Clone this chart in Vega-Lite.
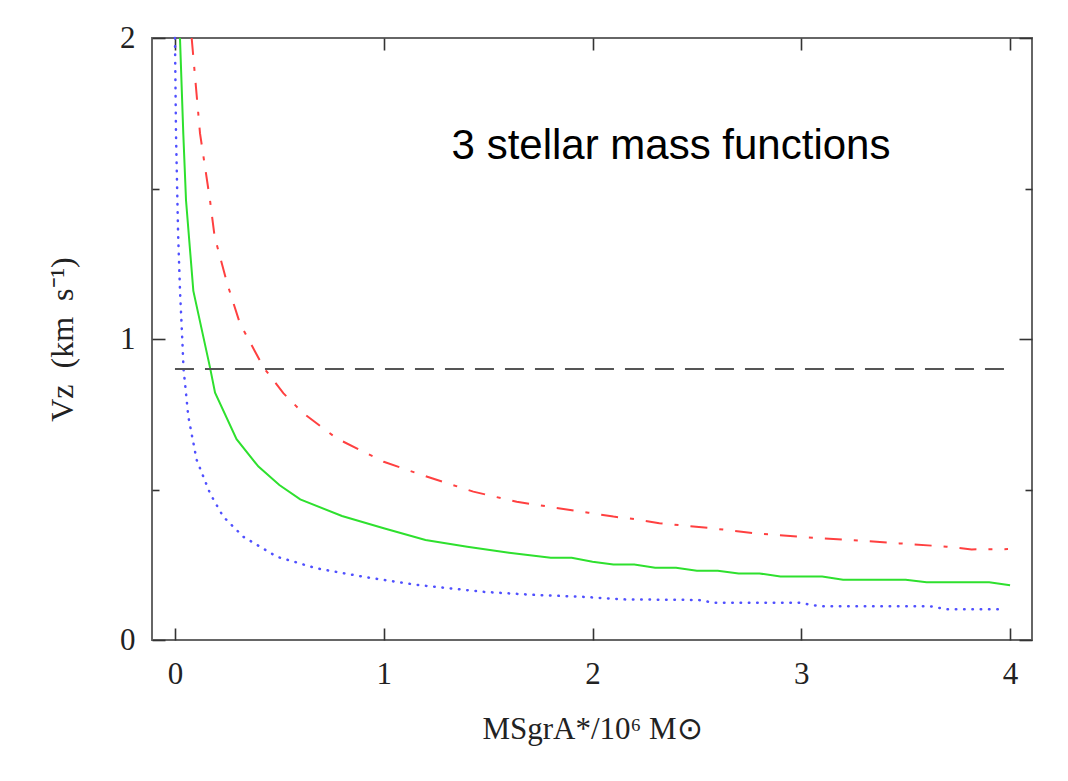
{
  "$schema": "https://vega.github.io/schema/vega-lite/v6.json",
  "width": 880,
  "height": 602,
  "autosize": {"type": "none"},
  "padding": {"left": 152, "top": 38, "right": 36, "bottom": 141},
  "background": "white",
  "config": {
    "view": {"stroke": "#666666", "strokeWidth": 2},
    "axis": {
      "domain": false,
      "grid": false,
      "labelOverlap": false,
      "tickColor": "#333333",
      "tickWidth": 1.6,
      "labelFont": "Liberation Serif",
      "labelFontSize": 31,
      "labelColor": "#222222",
      "titleFont": "Liberation Serif",
      "titleFontWeight": "normal",
      "titleFontSize": 31,
      "titleColor": "#222222"
    }
  },
  "datasets": {
    "curves": [
      {"series": "green", "x": 0.024, "y": 2.0},
      {"series": "green", "x": 0.04, "y": 1.68},
      {"series": "green", "x": 0.053, "y": 1.46},
      {"series": "green", "x": 0.088, "y": 1.16},
      {"series": "green", "x": 0.168, "y": 0.905},
      {"series": "green", "x": 0.192, "y": 0.822},
      {"series": "green", "x": 0.295, "y": 0.667},
      {"series": "green", "x": 0.4, "y": 0.576},
      {"series": "green", "x": 0.5, "y": 0.515},
      {"series": "green", "x": 0.6, "y": 0.467},
      {"series": "green", "x": 0.8, "y": 0.412},
      {"series": "green", "x": 1.0, "y": 0.371},
      {"series": "green", "x": 1.2, "y": 0.332},
      {"series": "green", "x": 1.4, "y": 0.31},
      {"series": "green", "x": 1.6, "y": 0.29},
      {"series": "green", "x": 1.8, "y": 0.273},
      {"series": "green", "x": 1.9, "y": 0.273},
      {"series": "green", "x": 2.0, "y": 0.26},
      {"series": "green", "x": 2.1, "y": 0.251},
      {"series": "green", "x": 2.2, "y": 0.251},
      {"series": "green", "x": 2.3, "y": 0.24},
      {"series": "green", "x": 2.4, "y": 0.24},
      {"series": "green", "x": 2.5, "y": 0.23},
      {"series": "green", "x": 2.6, "y": 0.23},
      {"series": "green", "x": 2.7, "y": 0.221},
      {"series": "green", "x": 2.8, "y": 0.221},
      {"series": "green", "x": 2.9, "y": 0.211},
      {"series": "green", "x": 3.1, "y": 0.211},
      {"series": "green", "x": 3.2, "y": 0.2},
      {"series": "green", "x": 3.5, "y": 0.2},
      {"series": "green", "x": 3.6, "y": 0.192},
      {"series": "green", "x": 3.9, "y": 0.192},
      {"series": "green", "x": 4.0, "y": 0.182},
      {"series": "red", "x": 0.08, "y": 2.0},
      {"series": "red", "x": 0.12, "y": 1.683},
      {"series": "red", "x": 0.168, "y": 1.46},
      {"series": "red", "x": 0.19, "y": 1.34},
      {"series": "red", "x": 0.25, "y": 1.185},
      {"series": "red", "x": 0.311, "y": 1.052},
      {"series": "red", "x": 0.425, "y": 0.905},
      {"series": "red", "x": 0.519, "y": 0.82},
      {"series": "red", "x": 0.615, "y": 0.753},
      {"series": "red", "x": 0.774, "y": 0.67},
      {"series": "red", "x": 1.0, "y": 0.592},
      {"series": "red", "x": 1.205, "y": 0.543},
      {"series": "red", "x": 1.429, "y": 0.493},
      {"series": "red", "x": 1.637, "y": 0.459},
      {"series": "red", "x": 1.98, "y": 0.423},
      {"series": "red", "x": 2.1, "y": 0.41},
      {"series": "red", "x": 2.21, "y": 0.401},
      {"series": "red", "x": 2.32, "y": 0.388},
      {"series": "red", "x": 2.56, "y": 0.372},
      {"series": "red", "x": 2.787, "y": 0.354},
      {"series": "red", "x": 3.01, "y": 0.342},
      {"series": "red", "x": 3.24, "y": 0.332},
      {"series": "red", "x": 3.47, "y": 0.321},
      {"series": "red", "x": 3.697, "y": 0.31},
      {"series": "red", "x": 3.816, "y": 0.301},
      {"series": "red", "x": 3.99, "y": 0.302},
      {"series": "blue", "x": 0.0, "y": 2.0},
      {"series": "blue", "x": 0.005, "y": 1.68},
      {"series": "blue", "x": 0.015, "y": 1.35},
      {"series": "blue", "x": 0.024, "y": 1.163},
      {"series": "blue", "x": 0.035, "y": 1.0},
      {"series": "blue", "x": 0.041, "y": 0.9},
      {"series": "blue", "x": 0.05, "y": 0.84},
      {"series": "blue", "x": 0.064, "y": 0.742},
      {"series": "blue", "x": 0.104, "y": 0.598},
      {"series": "blue", "x": 0.168, "y": 0.487},
      {"series": "blue", "x": 0.231, "y": 0.41},
      {"series": "blue", "x": 0.327, "y": 0.343},
      {"series": "blue", "x": 0.487, "y": 0.277},
      {"series": "blue", "x": 0.679, "y": 0.238},
      {"series": "blue", "x": 0.902, "y": 0.21},
      {"series": "blue", "x": 1.158, "y": 0.183},
      {"series": "blue", "x": 1.477, "y": 0.16},
      {"series": "blue", "x": 1.717, "y": 0.15},
      {"series": "blue", "x": 1.94, "y": 0.144},
      {"series": "blue", "x": 2.148, "y": 0.135},
      {"series": "blue", "x": 2.507, "y": 0.133},
      {"series": "blue", "x": 2.579, "y": 0.124},
      {"series": "blue", "x": 2.986, "y": 0.124},
      {"series": "blue", "x": 3.09, "y": 0.112},
      {"series": "blue", "x": 3.617, "y": 0.112},
      {"series": "blue", "x": 3.697, "y": 0.102},
      {"series": "blue", "x": 3.976, "y": 0.102}
    ],
    "threshold": [{"x": 0, "x2": 4, "y": 0.9}],
    "note": [{"x": 2.376, "y": 1.597, "label": "3 stellar mass functions"}]
  },
  "resolve": {"axis": {"x": "independent", "y": "independent"}},
  "layer": [
    {
      "data": {"name": "curves"},
      "transform": [{"filter": "datum.series === 'green'"}],
      "mark": {"type": "line", "color": "#2ee02e", "strokeWidth": 2},
      "encoding": {
        "x": {"field": "x", "type": "quantitative", "scale": {"domain": [-0.11, 4.105], "nice": false, "zero": false},
          "axis": {"orient": "bottom", "values": [0, 1, 2, 3, 4], "labelExpr": "datum.value == 0 ? '0' : datum.value == 1 ? '1' : datum.value == 2 ? '2' : datum.value == 3 ? '3' : '4'", "tickSize": -12, "labelPadding": 31, "title": "MSgrA*/10⁶ M⊙", "titlePadding": 25}},
        "y": {"field": "y", "type": "quantitative", "scale": {"domain": [0, 2], "nice": false, "zero": false},
          "axis": {"orient": "left", "values": [0, 0.5, 1, 1.5, 2], "labelExpr": "datum.value == 0 ? '0' : datum.value == 1 ? '1' : datum.value == 2 ? '2' : ''",
            "tickSize": {"condition": {"test": "datum.value == 0.5 || datum.value == 1.5", "value": -7}, "value": -13},
            "labelPadding": 30, "title": "Vz\u00a0\u00a0(km\u00a0\u00a0s⁻¹)", "titleFontSize": 32, "titlePadding": 40}}
      }
    },
    {
      "data": {"name": "curves"},
      "transform": [{"filter": "datum.series === 'red'"}],
      "mark": {"type": "line", "color": "#ff4040", "strokeWidth": 2, "strokeDash": [17, 12, 4, 12]},
      "encoding": {
        "x": {"field": "x", "type": "quantitative", "scale": {"domain": [-0.11, 4.105], "nice": false, "zero": false},
          "axis": {"orient": "top", "values": [0, 1, 2, 3, 4], "tickSize": -12, "labels": false, "title": null}},
        "y": {"field": "y", "type": "quantitative", "scale": {"domain": [0, 2], "nice": false, "zero": false},
          "axis": {"orient": "right", "values": [0, 0.5, 1, 1.5, 2], "labels": false, "title": null,
            "tickSize": {"condition": {"test": "datum.value == 0.5 || datum.value == 1.5", "value": -7}, "value": -13}}}
      }
    },
    {
      "data": {"name": "curves"},
      "transform": [{"filter": "datum.series === 'blue'"}],
      "mark": {"type": "line", "color": "#5050ff", "strokeWidth": 2.5, "strokeDash": [0.5, 7.8], "strokeCap": "round"},
      "encoding": {
        "x": {"field": "x", "type": "quantitative", "scale": {"domain": [-0.11, 4.105], "nice": false, "zero": false}, "axis": null},
        "y": {"field": "y", "type": "quantitative", "scale": {"domain": [0, 2], "nice": false, "zero": false}, "axis": null}
      }
    },
    {
      "data": {"name": "threshold"},
      "mark": {"type": "rule", "color": "#555555", "strokeWidth": 2, "strokeDash": [19, 11]},
      "encoding": {
        "x": {"field": "x", "type": "quantitative", "scale": {"domain": [-0.11, 4.105], "nice": false, "zero": false}, "axis": null},
        "x2": {"field": "x2"},
        "y": {"field": "y", "type": "quantitative", "scale": {"domain": [0, 2], "nice": false, "zero": false}, "axis": null}
      }
    },
    {
      "data": {"name": "note"},
      "mark": {"type": "text", "font": "Liberation Sans", "fontSize": 42, "color": "#000000", "align": "center", "baseline": "alphabetic"},
      "encoding": {
        "x": {"field": "x", "type": "quantitative", "scale": {"domain": [-0.11, 4.105], "nice": false, "zero": false}, "axis": null},
        "y": {"field": "y", "type": "quantitative", "scale": {"domain": [0, 2], "nice": false, "zero": false}, "axis": null},
        "text": {"field": "label"}
      }
    }
  ]
}
